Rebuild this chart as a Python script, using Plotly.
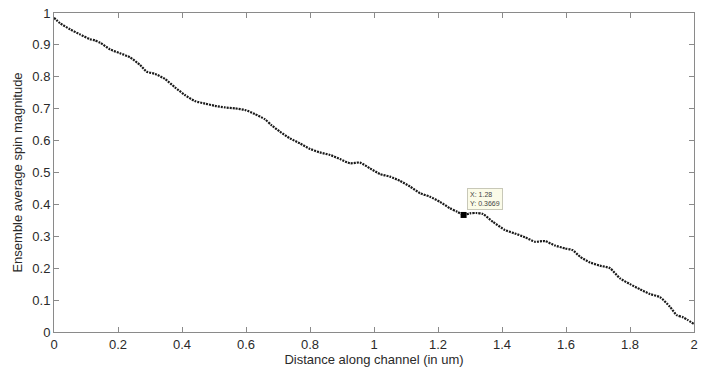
import plotly.graph_objects as go

distance = [0, 0.019, 0.05, 0.081, 0.1125, 0.128, 0.144, 0.175, 0.206, 0.2375,
            0.269, 0.29, 0.316, 0.347, 0.378, 0.409, 0.44, 0.472, 0.503, 0.534,
            0.566, 0.597, 0.628, 0.659, 0.68, 0.706, 0.7375, 0.769, 0.8, 0.831,
            0.8625, 0.894, 0.925, 0.956, 0.9875, 1.019, 1.05, 1.081, 1.1125, 1.144,
            1.175, 1.206, 1.2375, 1.26, 1.28, 1.30, 1.32, 1.34, 1.372, 1.409,
            1.44, 1.472, 1.503, 1.534, 1.566, 1.597, 1.62, 1.644, 1.675, 1.706,
            1.7375, 1.769, 1.8, 1.831, 1.8625, 1.894, 1.925, 1.946, 1.966, 1.98, 2.0]
spin = [0.985, 0.968, 0.949, 0.933, 0.918, 0.914, 0.907, 0.886, 0.874, 0.861,
        0.837, 0.816, 0.809, 0.793, 0.767, 0.743, 0.724, 0.716, 0.709, 0.704,
        0.701, 0.696, 0.683, 0.667, 0.648, 0.628, 0.607, 0.591, 0.574, 0.563,
        0.555, 0.542, 0.529, 0.531, 0.513, 0.495, 0.487, 0.474, 0.456, 0.435,
        0.424, 0.408, 0.388, 0.377, 0.367, 0.372, 0.373, 0.370, 0.345, 0.320,
        0.309, 0.297, 0.283, 0.285, 0.271, 0.262, 0.257, 0.236, 0.218, 0.208,
        0.200, 0.168, 0.150, 0.134, 0.119, 0.109, 0.079, 0.053, 0.046, 0.038, 0.025]

tip_x = [1.28]
tip_y = [0.3669]
tip_text = "X: 1.28<br>Y: 0.3669"

x_ticks = [0, 0.2, 0.4, 0.6, 0.8, 1, 1.2, 1.4, 1.6, 1.8, 2]
x_labels = ["0", "0.2", "0.4", "0.6", "0.8", "1", "1.2", "1.4", "1.6", "1.8", "2"]
y_ticks = [0, 0.1, 0.2, 0.3, 0.4, 0.5, 0.6, 0.7, 0.8, 0.9, 1]
y_labels = ["0", "0.1", "0.2", "0.3", "0.4", "0.5", "0.6", "0.7", "0.8", "0.9", "1"]

FONT = "Liberation Sans, Arial"

fig = go.Figure()
fig.add_trace(go.Scatter(
    x=distance, y=spin, mode="lines",
    line=dict(color="#1a1a1a", width=2.2, dash="2px,1px", shape="spline", smoothing=0.6),
    showlegend=False, hoverinfo="skip"))
fig.add_trace(go.Scatter(
    x=tip_x, y=tip_y, mode="markers",
    marker=dict(symbol="square", size=6, color="black"),
    showlegend=False, hoverinfo="skip"))

fig.add_annotation(
    x=tip_x[0], y=tip_y[0], xref="x", yref="y", text=tip_text,
    showarrow=False, xanchor="left", yanchor="bottom", xshift=3, yshift=5,
    align="left", font=dict(family=FONT, size=7, color="#444"),
    bgcolor="#fbfbe8", bordercolor="#c8c8b8", borderwidth=1, borderpad=2)

axis_common = dict(
    showline=True, mirror="ticks", linecolor="#8a8a8a", linewidth=1,
    ticks="inside", ticklen=5, tickcolor="#8a8a8a", tickwidth=1,
    showgrid=False, zeroline=False, automargin=False,
    tickfont=dict(family=FONT, size=13, color="#2a2a2a"),
)

fig.update_xaxes(range=[0, 2], tickvals=x_ticks, ticktext=x_labels,
                 title=dict(text="Distance along channel (in um)", standoff=0,
                            font=dict(family=FONT, size=13, color="#2a2a2a")),
                 **axis_common)
fig.update_yaxes(range=[0, 1], tickvals=y_ticks, ticktext=y_labels,
                 title=dict(text="Ensemble average spin magnitude", standoff=6,
                            font=dict(family=FONT, size=13, color="#2a2a2a")),
                 **axis_common)

fig.update_layout(
    width=711, height=373,
    margin=dict(l=54, r=17, t=13, b=41, autoexpand=False),
    paper_bgcolor="white", plot_bgcolor="white",
)

# remove the default 8px page margin so the figure sits at the window's corner
fig.write_html("out.html",
               config={"displayModeBar": False},
               post_script="document.body.style.margin='0';document.body.style.overflow='hidden';")
